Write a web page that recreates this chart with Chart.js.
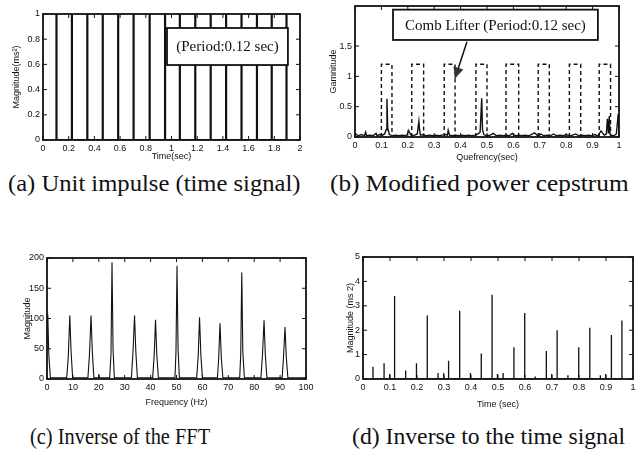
<!DOCTYPE html>
<html>
<head>
<meta charset="utf-8">
<script src="https://cdn.jsdelivr.net/npm/chart.js@4/dist/chart.umd.min.js"></script>
<style>
  html, body { margin: 0; padding: 0; background: #fff; }
  body { position: relative; width: 640px; height: 464px; overflow: hidden; }
  canvas { position: absolute; }
  .cap { position: absolute; font-family: 'Liberation Serif', 'Times New Roman', serif; font-size: 23px; color: #111; white-space: nowrap; line-height: 1; transform-origin: 0 50%; }
</style>
</head>
<body>
<canvas id="chartA"></canvas>
<canvas id="chartB"></canvas>
<canvas id="chartC"></canvas>
<canvas id="chartD"></canvas>
<div class="cap" data-w="292" style="left:8px; top:172px;">(a) Unit impulse (time signal)</div>
<div class="cap" data-w="298" style="left:330px; top:172px;">(b) Modified power cepstrum</div>
<div class="cap" data-w="180" style="left:30px; top:425px;">(c) Inverse of the FFT</div>
<div class="cap" data-w="273" style="left:352px; top:425px;">(d) Inverse to the time signal</div>
<script>
// ==================== DATA ====================
// (a) unit impulse train
const impulseTimes = [0.105, 0.225, 0.345, 0.465, 0.585, 0.705, 0.83, 0.95, 1.065, 1.185, 1.305, 1.425, 1.545, 1.665, 1.78, 1.895];
const impulseMag = [1, 1, 1, 1, 1, 1, 1, 1, 1, 1, 1, 1, 1, 1, 1, 1];
const aXTicks = [0, 0.2, 0.4, 0.6, 0.8, 1, 1.2, 1.4, 1.6, 1.8, 2];
const aYTicks = [0, 0.2, 0.4, 0.6, 0.8, 1];

// (b) modified power cepstrum + comb lifter
const quefrency = [0, 0.012, 0.024, 0.036, 0.04, 0.044, 0.056, 0.068, 0.08, 0.084,
  0.092, 0.104, 0.112, 0.118, 0.121, 0.124, 0.13, 0.142, 0.154, 0.166,
  0.178, 0.19, 0.198, 0.202, 0.214, 0.226, 0.236, 0.242, 0.245, 0.248,
  0.258, 0.27, 0.282, 0.294, 0.306, 0.318, 0.33, 0.342, 0.35, 0.353,
  0.358, 0.37, 0.382, 0.394, 0.406, 0.418, 0.43, 0.442, 0.454, 0.466,
  0.474, 0.48, 0.483, 0.488, 0.5, 0.512, 0.524, 0.536, 0.548, 0.56,
  0.572, 0.584, 0.596, 0.608, 0.62, 0.632, 0.644, 0.656, 0.668, 0.68,
  0.692, 0.704, 0.716, 0.728, 0.74, 0.752, 0.764, 0.776, 0.788, 0.8,
  0.812, 0.824, 0.836, 0.848, 0.86, 0.872, 0.884, 0.896, 0.908, 0.92,
  0.932, 0.944, 0.952, 0.956, 0.96, 0.963, 0.966, 0.97, 0.98, 0.99,
  0.997, 1];
const cepstrumAmp = [0.06, 0.02, 0.04, 0.02, 0.08, 0.02, 0.03, 0.02, 0.06, 0.02,
  0.04, 0.03, 0.05, 0.12, 0.63, 0.15, 0.04, 0.02, 0.03, 0.02,
  0.03, 0.02, 0.04, 0.11, 0.02, 0.03, 0.05, 0.26, 0.1, 0.03,
  0.04, 0.02, 0.03, 0.02, 0.03, 0.02, 0.03, 0.04, 0.03, 0.11,
  0.03, 0.02, 0.03, 0.02, 0.03, 0.02, 0.03, 0.02, 0.03, 0.05,
  0.08, 0.64, 0.12, 0.04, 0.02, 0.03, 0.06, 0.02, 0.03, 0.02,
  0.03, 0.02, 0.06, 0.02, 0.03, 0.02, 0.03, 0.02, 0.04, 0.07,
  0.02, 0.05, 0.02, 0.03, 0.02, 0.05, 0.02, 0.03, 0.02, 0.04,
  0.02, 0.03, 0.05, 0.02, 0.03, 0.02, 0.03, 0.02, 0.04, 0.02,
  0.1, 0.03, 0.05, 0.3, 0.06, 0.34, 0.05, 0.03, 0.02, 0.05,
  0.38, 0.05];
const lifterStart = [0.10, 0.215, 0.338, 0.458, 0.572, 0.694, 0.812, 0.925];
const lifterEnd = [0.14, 0.26, 0.379, 0.50, 0.62, 0.736, 0.855, 0.968];
const lifterHeight = 1.2;
const bXTicks = [0, 0.1, 0.2, 0.3, 0.4, 0.5, 0.6, 0.7, 0.8, 0.9, 1];
const bYTicks = [0, 0.5, 1, 1.5];

// (c) inverse of the FFT (spectrum)
const freqHz = [0, 0.3, 0.7, 1.3, 7.6, 8.2, 8.8, 9.3, 9.9, 15.8,
  16.4, 17, 17.5, 18.1, 19.8, 20, 20.2, 24.2, 24.7, 25.1,
  25.5, 26, 32.6, 33.2, 33.8, 34.3, 34.9, 40.8, 41.4, 41.9,
  42.4, 43, 49.4, 49.8, 50.2, 50.6, 51.1, 57.8, 58.4, 58.9,
  59.4, 60, 65.8, 66.3, 66.8, 67.3, 67.9, 74.4, 74.8, 75.2,
  75.6, 76.2, 82.6, 83.2, 83.8, 84.3, 84.9, 90.8, 91.3, 91.9,
  92.4, 93, 100];
const spectrumMag = [60, 107, 40, 2, 2, 35, 105, 45, 2, 2,
  40, 105, 45, 2, 2, 8, 2, 2, 40, 193,
  50, 2, 2, 45, 105, 45, 2, 2, 40, 98,
  40, 2, 2, 45, 187, 50, 2, 2, 40, 102,
  40, 2, 2, 35, 92, 35, 2, 2, 40, 176,
  45, 2, 2, 40, 97, 40, 2, 2, 35, 86,
  35, 2, 2];
const cXTicks = [0, 10, 20, 30, 40, 50, 60, 70, 80, 90, 100];
const cYTicks = [0, 50, 100, 150, 200];

// (d) back to the time signal
const timeSec = [0.037, 0.078, 0.099, 0.117, 0.158, 0.198, 0.238, 0.278, 0.299, 0.317,
  0.358, 0.398, 0.438, 0.478, 0.498, 0.519, 0.559, 0.599, 0.638, 0.679,
  0.699, 0.719, 0.759, 0.799, 0.84, 0.879, 0.899, 0.92, 0.959];
const responseMag = [0.5, 0.65, 0.2, 3.4, 0.35, 0.65, 2.6, 0.25, 0.25, 0.75,
  2.8, 0.25, 1.05, 3.45, 0.2, 0.25, 1.3, 2.7, 0.1, 1.15,
  0.2, 2.0, 0.15, 1.3, 2.1, 0.15, 0.2, 1.8, 2.4];
const dXTicks = [0, 0.1, 0.2, 0.3, 0.4, 0.5, 0.6, 0.7, 0.8, 0.9, 1];
const dYTicks = [0, 1, 2, 3, 4, 5];

// ==================== HELPERS ====================
const TICK_FONT = "'Liberation Sans Narrow', 'Liberation Sans', Arial, sans-serif";
Chart.defaults.font.family = TICK_FONT;
Chart.defaults.font.size = 9;
Chart.defaults.color = '#111';

const spikes = (xs, ys) => xs.flatMap((x, i) => [{ x: x, y: 0 }, { x: x, y: ys[i] }, { x: x, y: 0 }]);
const pairs = (xs, ys) => xs.map((x, i) => ({ x: x, y: ys[i] }));

// MATLAB-like frame: inward ticks, y tick labels, text box annotations
const framePlugin = {
  id: 'frame',
  afterDatasetsDraw(chart, args, fo) {
    const { ctx, chartArea: a, scales: { x, y } } = chart;
    const note = fo.note;
    const yVals = fo.yTicks;
    ctx.save();
    if (note) {
      const x0 = x.getPixelForValue(note.x0), x1 = x.getPixelForValue(note.x1);
      const y0 = y.getPixelForValue(note.y0), y1 = y.getPixelForValue(note.y1);
      if (note.arrow) {
        const ax0 = x.getPixelForValue(note.arrow[0]), ay0 = y.getPixelForValue(note.arrow[1]);
        const ax1 = x.getPixelForValue(note.arrow[2]), ay1 = y.getPixelForValue(note.arrow[3]);
        ctx.strokeStyle = '#111';
        ctx.lineWidth = 1.5;
        ctx.beginPath(); ctx.moveTo(ax0, ay0); ctx.lineTo(ax1, ay1); ctx.stroke();
        const ang = Math.atan2(ay1 - ay0, ax1 - ax0);
        ctx.fillStyle = '#333';
        ctx.beginPath();
        ctx.moveTo(ax1, ay1);
        ctx.lineTo(ax1 - 12 * Math.cos(ang - 0.45), ay1 - 12 * Math.sin(ang - 0.45));
        ctx.lineTo(ax1 - 12 * Math.cos(ang + 0.45), ay1 - 12 * Math.sin(ang + 0.45));
        ctx.closePath(); ctx.fill();
      }
      ctx.fillStyle = '#fff';
      ctx.fillRect(x0, y1, x1 - x0, y0 - y1);
      ctx.strokeStyle = '#111';
      ctx.lineWidth = 1.8;
      ctx.strokeRect(x0, y1, x1 - x0, y0 - y1);
      ctx.fillStyle = '#111';
      ctx.font = note.font;
      ctx.textAlign = 'center';
      ctx.textBaseline = 'middle';
      ctx.fillText(note.text, (x0 + x1) / 2, (y0 + y1) / 2 + 1);
    }
    ctx.strokeStyle = '#111';
    ctx.lineWidth = 1;
    ctx.beginPath();
    x.ticks.forEach(t => {
      const px = x.getPixelForValue(t.value);
      ctx.moveTo(px, a.bottom); ctx.lineTo(px, a.bottom - 4);
      ctx.moveTo(px, a.top); ctx.lineTo(px, a.top + 4);
    });
    yVals.forEach(v => {
      const py = y.getPixelForValue(v);
      ctx.moveTo(a.left, py); ctx.lineTo(a.left + 4, py);
      ctx.moveTo(a.right, py); ctx.lineTo(a.right - 4, py);
    });
    ctx.stroke();
    ctx.lineWidth = 1.8;
    ctx.strokeRect(a.left, a.top, a.width, a.height);
    // y tick labels
    ctx.fillStyle = '#111';
    ctx.font = '9px ' + TICK_FONT;
    ctx.textAlign = 'right';
    ctx.textBaseline = 'middle';
    yVals.forEach(v => ctx.fillText(String(v), a.left - 3, y.getPixelForValue(v)));
    ctx.restore();
  }
};

// box = canvas placement, area = wanted plot area (page coords)
function makePanel(id, box, area, titlePos, opts) {
  const cv = document.getElementById(id);
  cv.width = box.width; cv.height = box.height;
  cv.style.left = box.left + 'px'; cv.style.top = box.top + 'px';
  cv.style.width = box.width + 'px'; cv.style.height = box.height + 'px';

  const half = 5.4; // half line height of the axis titles
  const padL = Math.max(0, titlePos.yTitleX - box.left - half);
  const padB = Math.max(0, box.top + box.height - titlePos.xTitleY - half);
  const yWidth = area.left - box.left - padL;
  const xHeight = box.top + box.height - padB - area.bottom;

  const axis = (ticks, min, max, title, extra) => Object.assign({
    type: 'linear', min: min, max: max,
    grid: { display: false, drawTicks: false }, border: { display: false },
    afterBuildTicks: s => { s.ticks = ticks.map(v => ({ value: v })); },
    ticks: { autoSkip: false, maxRotation: 0, padding: 3, callback: v => String(v), font: { size: 9 } },
    title: { display: true, text: title, font: { size: 9 }, padding: 0 }
  }, extra);

  return new Chart(cv, {
    type: 'line',
    data: { datasets: opts.datasets },
    options: {
      responsive: false,
      animation: false,
      layout: { padding: { left: padL, top: area.top - box.top, right: box.left + box.width - area.right, bottom: padB } },
      plugins: { legend: { display: false }, tooltip: { enabled: false }, frame: { note: opts.note, yTicks: opts.yTicks } },
      elements: { point: { radius: 0 }, line: { tension: 0 } },
      scales: {
        x: axis(opts.xTicks, opts.xMin, opts.xMax, opts.xTitle, { afterFit: s => { s.height = xHeight; } }),
        y: axis(opts.yTicks, opts.yMin, opts.yMax, opts.yTitle, {
          afterFit: s => { s.width = yWidth; },
          ticks: { display: false, autoSkip: false }
        })
      }
    },
    plugins: [framePlugin]
  });
}

// ==================== PANELS ====================
makePanel('chartA', { left: 0, top: 0, width: 320, height: 170 }, { left: 43, top: 14, right: 300, bottom: 140 },
  { yTitleX: 17, xTitleY: 157 }, {
    xTicks: aXTicks, yTicks: aYTicks, xMin: 0, xMax: 2, yMin: 0, yMax: 1,
    xTitle: 'Time(sec)', yTitle: 'Magnitude(ms²)',
    datasets: [{ data: spikes(impulseTimes, impulseMag), borderColor: '#111', borderWidth: 2.2 }],
    note: { x0: 0.965, x1: 1.906, y0: 0.595, y1: 0.889, text: '(Period:0.12 sec)', font: "15px 'Liberation Serif', serif" }
  });

makePanel('chartB', { left: 320, top: 0, width: 320, height: 170 }, { left: 355, top: 6, right: 619, bottom: 137 },
  { yTitleX: 334, xTitleY: 158 }, {
    xTicks: bXTicks, yTicks: bYTicks, xMin: 0, xMax: 1, yMin: 0, yMax: 2.16,
    xTitle: 'Quefrency(sec)', yTitle: 'Gamnitude',
    datasets: [
      { data: pairs(quefrency, cepstrumAmp), borderColor: '#111', borderWidth: 1.4 },
      {
        data: lifterStart.flatMap((s, i) => [{ x: s, y: 0 }, { x: s, y: lifterHeight }, { x: lifterEnd[i], y: lifterHeight }, { x: lifterEnd[i], y: 0 }, { x: lifterEnd[i], y: null }]),
        borderColor: '#111', borderWidth: 1.4, borderDash: [4, 3], spanGaps: false
      }
    ],
    note: { x0: 0.144, x1: 0.92, y0: 1.6, y1: 2.1, text: 'Comb Lifter (Period:0.12 sec)', font: "15px 'Liberation Serif', serif",
      arrow: [0.424, 1.57, 0.379, 0.97] }
  });

makePanel('chartC', { left: 0, top: 230, width: 320, height: 190 }, { left: 47, top: 258, right: 306, bottom: 379 },
  { yTitleX: 28, xTitleY: 403 }, {
    xTicks: cXTicks, yTicks: cYTicks, xMin: 0, xMax: 100, yMin: 0, yMax: 200,
    xTitle: 'Frequency (Hz)', yTitle: 'Magnitude',
    datasets: [{ data: pairs(freqHz, spectrumMag), borderColor: '#111', borderWidth: 1.1 }]
  });

makePanel('chartD', { left: 320, top: 230, width: 320, height: 190 }, { left: 363, top: 257, right: 633, bottom: 379 },
  { yTitleX: 351, xTitleY: 405 }, {
    xTicks: dXTicks, yTicks: dYTicks, xMin: 0, xMax: 1, yMin: 0, yMax: 5,
    xTitle: 'Time (sec)', yTitle: 'Magnitude (ms 2)',
    datasets: [{ data: spikes(timeSec, responseMag), borderColor: '#111', borderWidth: 1.3 }]
  });

// stretch captions to the widths they have in the figure
document.querySelectorAll('.cap').forEach(el => {
  const k = Number(el.dataset.w) / el.offsetWidth;
  el.style.transform = 'scaleX(' + k.toFixed(3) + ')';
});
</script>
</body>
</html>
